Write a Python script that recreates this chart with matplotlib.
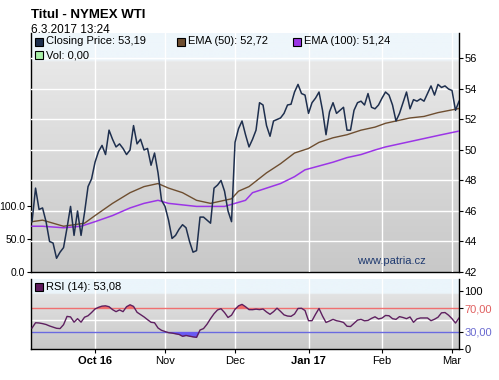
import numpy as np
import matplotlib
matplotlib.use("Agg")
import matplotlib.pyplot as plt
from matplotlib.colors import LinearSegmentedColormap
from matplotlib.patches import Rectangle

plt.rcParams['font.family'] = ['Liberation Sans', 'DejaVu Sans']

# closing price, one value per trading day (Sep 2016 .. 6.3.2017)
close = [45.3, 47.5, 46.1, 46.2, 45.3, 44.0, 43.9, 42.9, 43.3, 43.6,
         44.9, 46.3, 44.4, 46.0, 44.4, 45.9, 47.6, 48.1, 49.2, 49.9,
         50.3, 49.7, 51.3, 50.7, 50.2, 50.4, 50.1, 49.7, 50.0, 51.6,
         50.4, 50.7, 50.0, 50.1, 49.0, 49.8, 48.5, 46.7, 46.3, 45.4,
         44.2, 44.4, 44.8, 45.1, 44.9, 44.0, 43.3, 43.4, 45.6, 45.6,
         45.4, 45.2, 47.5, 47.7, 48.0, 47.3, 46.0, 45.3, 50.5, 51.4,
         51.9, 51.0, 50.2, 50.7, 51.3, 53.1, 52.95, 51.6, 50.9, 51.9,
         52.0, 52.1, 52.4, 52.95, 53.0, 53.8, 54.3, 53.7, 53.6, 52.4,
         53.1, 53.4, 53.8, 52.6, 51.0, 52.5, 53.1, 52.4, 52.6, 52.8,
         51.3, 51.3, 52.6, 53.1, 53.2, 52.95, 53.7, 52.8, 52.7, 52.95,
         53.4, 53.8, 53.6, 52.95, 51.9, 52.4, 53.1, 53.8, 52.7, 53.3,
         53.2, 53.35, 53.2, 53.7, 54.2, 53.6, 54.3, 54.1, 54.2, 54.0,
         53.9, 52.6, 53.19]

ema50_day = [0, 3, 9, 12, 15, 18, 23, 28, 32, 36, 39, 43, 47, 51, 55, 57,
             59, 62, 67, 71, 75, 79, 82, 86, 90, 94, 98, 101, 104, 108,
             112, 116, 122]
ema50 = [45.3, 45.4, 45.0, 45.1, 45.2, 45.7, 46.5, 47.2, 47.6, 47.8, 47.5,
         47.2, 46.7, 46.5, 46.7, 46.8, 47.3, 47.6, 48.5, 49.1, 49.8, 50.1,
         50.5, 50.8, 51.0, 51.3, 51.5, 51.75, 51.9, 52.1, 52.2, 52.45,
         52.72]

ema100_day = [0, 3, 9, 14, 18, 23, 28, 32, 36, 39, 43, 47, 51, 55, 58, 61,
              63, 67, 71, 75, 78, 82, 86, 90, 94, 98, 101, 105, 109, 113,
              117, 122]
ema100 = [45.0, 45.0, 44.9, 45.0, 45.3, 45.7, 46.2, 46.5, 46.7, 46.5, 46.4,
          46.3, 46.3, 46.3, 46.5, 46.7, 47.2, 47.5, 47.8, 48.25, 48.7,
          48.95, 49.2, 49.5, 49.7, 50.0, 50.2, 50.4, 50.6, 50.8, 51.0,
          51.24]

rsi = [36, 45, 44.6, 43.5, 42, 39.5, 37.5, 35.5, 35, 41.7,
       55.9, 55, 46, 52, 46, 54.5, 57, 62.5, 68.6, 71.5,
       73.5, 74, 72.5, 67.5, 64, 67, 64, 72.5, 75.8, 73,
       63, 59, 55, 50.3, 45.8, 45, 36, 32, 30, 28,
       27.3, 26.1, 25, 21.8, 23.2, 22, 20.8, 20, 32.5, 35,
       42.5, 52, 60.5, 67, 69, 62.5, 54, 58, 68, 74,
       76.5, 72.5, 67.5, 67.4, 68.3, 67.5, 68.5, 63.5, 59.5, 64,
       70, 64.5, 58.5, 56.5, 56, 60, 69.5, 69.8, 66, 48.5,
       48.5, 59.5, 69.5, 56.5, 45.5, 48, 50.8, 48.5, 47.3, 45.5,
       39, 38.5, 44, 49.5, 50.8, 48.3, 49, 52.5, 55.2, 51.5,
       53, 57.5, 57, 52, 50.8, 55.5, 54, 52, 54.9, 45.8,
       51.6, 53.2, 53.2, 53.2, 48.5, 51, 54.5, 62, 62.5, 58,
       52, 44.5, 53.08]

month_pos = [18, 38, 58, 79, 100, 120]
month_lab = ["Oct 16", "Nov", "Dec", "Jan 17", "Feb", "Mar"]
month_bold = [True, False, False, True, False, False]
price_ticks = [42, 44, 46, 48, 50, 52, 54, 56]
vol_ticks = [0, 50, 100]

W, H = 499, 380
fig = plt.figure(figsize=(W / 100, H / 100), dpi=100)


def box(l, t, r, b):
    return [l / W, 1 - b / H, (r - l) / W, (b - t) / H]


def px(x, y):
    return x / W, 1 - y / H


def gradient(rect, stops):
    bg = fig.add_axes(rect, zorder=0)
    bg.axis("off")
    cmap = LinearSegmentedColormap.from_list("bg", stops)
    bg.imshow(np.linspace(0, 1, 256).reshape(-1, 1), aspect="auto",
              cmap=cmap, extent=[0, 1, 0, 1], origin="upper")


main_rect = box(31, 33, 459, 272)
rsi_rect = box(31, 279, 459, 349)
gradient(main_rect, [(0, "#EEF6FB"), (0.11, "#EEF6FB"), (0.12, "#E8E8E8"),
                     (1, "#C8C8C8")])
gradient(rsi_rect, [(0, "#EBF5FB"), (0.2, "#EBF5FB"), (0.22, "#E2E2E2"),
                    (1, "#C8C8C8")])

x = np.arange(len(close))
xlim = (-0.3, len(close) - 1)

# main panel: left = volume scale, right = price
ax = fig.add_axes(main_rect, zorder=1)
ax.patch.set_visible(False)
ax.set_xlim(*xlim)
ax.set_ylim(0, 362)
ax.set_yticks(vol_ticks)
ax.set_yticklabels([f"{v:.1f}" for v in vol_ticks])
ax.set_xticks([])
ax.tick_params(axis="y", labelsize=7.5, length=3, width=0.8, pad=1)
for s in ("top", "right"):
    ax.spines[s].set_visible(False)
ax.spines["left"].set_linewidth(1)
ax.spines["bottom"].set_linewidth(1)

axp = ax.twinx()
axp.set_xlim(*xlim)
axp.set_ylim(42, 57.67)
axp.set_yticks(price_ticks)
axp.tick_params(axis="y", labelsize=8, length=3, width=0.8, pad=1)
for s in ("top", "left", "bottom"):
    axp.spines[s].set_visible(False)
axp.spines["right"].set_linewidth(1)
for v in price_ticks[1:]:
    axp.axhline(v, color="white", lw=1, zorder=1)
for m in month_pos:
    axp.axvline(m, color="white", lw=1, zorder=1)

axp.plot(x, close, color="#1E2F4E", lw=1.1, zorder=4)
axp.plot(ema50_day, ema50, color="#6E4E30", lw=1.0, zorder=3)
axp.plot(ema100_day, ema100, color="#9B35E6", lw=1.1, zorder=3)
fig.text(*px(357, 261), "www.patria.cz", color="#1F3A70", fontsize=8,
         va="center", ha="left", zorder=5)

# RSI panel
rax = fig.add_axes(rsi_rect, zorder=1)
rax.patch.set_visible(False)
rax.set_xlim(*xlim)
rax.set_ylim(0, 120)
rsi_arr = np.array(rsi)
rax.axhline(50, color="white", lw=1, zorder=1)
for m in month_pos:
    rax.axvline(m, color="white", lw=1, zorder=1)
rax.axhline(70, color="#F07070", lw=1, zorder=2)
rax.axhline(30, color="#6A6AE0", lw=1, zorder=2)
rax.fill_between(x, rsi_arr, 70, where=rsi_arr > 70, interpolate=True,
                 color="#F06A6A", lw=0, zorder=2)
rax.fill_between(x, rsi_arr, 30, where=rsi_arr < 30, interpolate=True,
                 color="#6A5AF2", lw=0, zorder=2)
rax.plot(x, rsi_arr, color="#5E2060", lw=1.0, zorder=3)
rax.yaxis.tick_right()
rax.set_yticks([0, 30, 70, 100])
rax.set_yticklabels(["0", "30,00", "70,00", "100"])
rax.tick_params(axis="y", labelsize=8, length=3, width=0.8, pad=1)
for lab, c in zip(rax.get_yticklabels(), ["black", "#6A6AD0", "#E06060", "black"]):
    lab.set_color(c)
rax.set_xticks(month_pos)
rax.set_xticklabels(month_lab)
rax.tick_params(axis="x", labelsize=8, length=3, width=0.8, pad=2)
for lab, b in zip(rax.get_xticklabels(), month_bold):
    if b:
        lab.set_fontweight("bold")
rax.spines["top"].set_visible(False)
for s in ("left", "right", "bottom"):
    rax.spines[s].set_linewidth(1)

# header
fig.text(*px(31, 15), "Titul - NYMEX WTI", fontsize=9.5, fontweight="bold",
         va="center")
fig.text(*px(31, 30), "6.3.2017 13:24", fontsize=8.5, va="center")


def legend_item(x0, y0, color, label):
    l, b = px(x0, y0 + 4)
    fig.add_artist(Rectangle((l, b), 8 / W, 8 / H, transform=fig.transFigure,
                             facecolor=color, edgecolor="black", lw=0.8,
                             zorder=6))
    fig.text(*px(x0 + 11, y0), label, fontsize=8, va="center", zorder=6)


legend_item(35, 41.5, "#1E2F4E", "Closing Price: 53,19")
legend_item(177, 41.5, "#6E4E30", "EMA (50): 52,72")
legend_item(293, 41.5, "#9B35E6", "EMA (100): 51,24")
legend_item(35, 55, "#A8F0A8", "Vol: 0,00")
legend_item(35, 286.5, "#5E1A5E", "RSI (14): 53,08")

fig.savefig("out.png", dpi=100)
